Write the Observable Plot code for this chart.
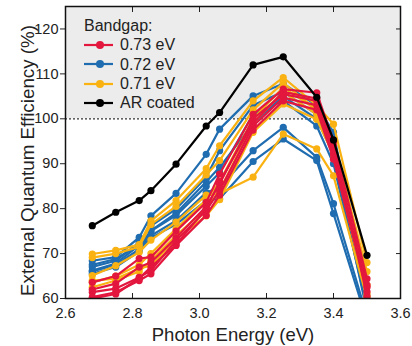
<!DOCTYPE html>
<html>
<head>
<meta charset="utf-8">
<script src="https://cdn.jsdelivr.net/npm/d3@7"></script>
<script src="https://cdn.jsdelivr.net/npm/@observablehq/plot@0.6"></script>
<style>
  html, body { margin: 0; padding: 0; background: #fff; }
  #wrap { position: relative; width: 412px; height: 346px; font-family: "Liberation Sans", Arial, sans-serif; }
  #legend { position: absolute; left: 84px; top: 16px; font-size: 16px; color: #222; line-height: 19px; }
  #legend .row { display: flex; align-items: center; height: 19.3px; }
  #legend svg { margin-right: 7px; }
</style>
</head>
<body>
<div id="wrap"></div>
<script>
const energies = [2.68, 2.75, 2.82, 2.855, 2.93, 3.02, 3.06, 3.16, 3.25, 3.35, 3.40, 3.50];

const arCoated = [76.2, 79.2, 81.8, 84.0, 89.9, 98.4, 101.4, 112.0, 113.8, 104.8, 95.3, 69.6];

const bandgap072 = [
  [68.4, 69.2, 73.6, 78.4, 83.4, 92.1, 97.7, 105.1, 107.8, 103.0, 97.0, 59.0],
  [67.0, 68.4, 72.5, 76.2, 79.9, 87.0, 92.9, 103.0, 106.0, 101.0, 95.0, 58.0],
  [66.2, 67.8, 71.8, 75.1, 79.0, 86.0, 89.2, 99.0, 105.0, 100.0, 92.0, 57.0],
  [67.5, 68.8, 72.0, 74.0, 77.3, 83.6, 84.7, 92.9, 98.1, 91.4, 81.1, 56.0],
  [66.0, 67.5, 71.0, 73.5, 76.5, 81.8, 82.2, 90.5, 95.5, 90.7, 78.9, 55.0],
  [65.5, 67.0, 70.5, 75.0, 78.5, 85.0, 88.0, 101.0, 104.0, 98.4, 90.0, 58.0]
];

const bandgap071 = [
  [69.9, 70.7, 72.0, 77.3, 81.8, 88.9, 94.0, 104.0, 109.2, 103.0, 98.8, 68.0],
  [69.1, 70.0, 71.5, 76.5, 80.5, 87.5, 90.7, 102.0, 108.0, 102.0, 95.0, 66.0],
  [65.1, 67.3, 70.3, 73.0, 77.0, 83.0, 83.3, 87.0, 96.6, 93.3, 87.3, 60.0],
  [64.0, 64.4, 66.7, 67.3, 73.3, 78.4, 82.0, 97.0, 103.3, 99.9, 92.0, 61.0],
  [62.5, 64.0, 66.0, 68.5, 74.0, 80.0, 84.0, 99.0, 106.0, 101.0, 93.0, 60.3],
  [63.6, 65.0, 67.5, 70.0, 75.5, 82.0, 86.0, 100.0, 107.0, 102.0, 94.0, 63.0]
];

const bandgap073 = [
  [63.6, 65.0, 68.9, 69.2, 75.0, 81.4, 87.7, 101.0, 106.6, 105.8, 95.0, 64.4],
  [62.0, 63.3, 67.0, 68.0, 73.5, 80.5, 85.5, 100.0, 105.5, 104.0, 93.0, 63.0],
  [61.4, 62.2, 64.7, 66.2, 72.9, 79.6, 84.0, 98.4, 104.7, 103.0, 92.0, 62.5],
  [60.3, 61.4, 64.0, 65.5, 71.8, 78.5, 83.0, 97.5, 104.0, 102.0, 91.0, 61.5],
  [60.0, 61.0, 64.5, 67.0, 72.0, 80.0, 86.0, 99.0, 106.0, 104.5, 94.0, 60.5]
];

const xTicks = [2.6, 2.8, 3.0, 3.2, 3.4, 3.6];
const yTicks = [60, 70, 80, 90, 100, 110, 120];
const xDomain = [2.6, 3.6];
const yDomain = [60, 125];
const shadeFrom = 100;

const colors = { red: "#e3173e", blue: "#1f6db0", yellow: "#f9b212", black: "#000000" };
const legendItems = [
  { label: "0.73 eV", color: colors.red },
  { label: "0.72 eV", color: colors.blue },
  { label: "0.71 eV", color: colors.yellow },
  { label: "AR coated", color: colors.black }
];

function toRows(group, color, prefix) {
  return group.flatMap((vals, i) => vals.map((v, j) => ({ x: energies[j], y: v, s: prefix + i, c: color })));
}
const groups = [
  toRows(bandgap072, colors.blue, "b"),
  toRows(bandgap071, colors.yellow, "y"),
  toRows(bandgap073, colors.red, "r"),
  toRows([arCoated], colors.black, "k")
];

const marks = [
  Plot.rect([{ x1: xDomain[0], x2: xDomain[1], y1: shadeFrom, y2: yDomain[1] }], { x1: "x1", x2: "x2", y1: "y1", y2: "y2", fill: "#ececec" }),
  Plot.ruleY([shadeFrom], { stroke: "#333", strokeWidth: 1.2, strokeDasharray: "2,2" })
];
for (const g of groups) {
  marks.push(Plot.line(g, { x: "x", y: "y", z: "s", stroke: "c", strokeWidth: 2.2, clip: true }));
  marks.push(Plot.dot(g, { x: "x", y: "y", fill: "c", r: 3.6, clip: true }));
}
marks.push(
  Plot.axisX({ ticks: xTicks, tickSize: -5, tickFormat: d3.format(".1f"), tickPadding: 14, fontSize: 14.5, label: null }),
  Plot.axisX({ anchor: "top", ticks: xTicks, tickSize: -5, tickFormat: () => "", label: null }),
  Plot.axisY({ ticks: yTicks, tickSize: 5, tickPadding: 2, fontSize: 14.5, label: null }),
  Plot.axisY({ anchor: "right", ticks: yTicks, tickSize: -5, tickFormat: () => "", label: null }),
  Plot.frame({ stroke: "#111", strokeWidth: 1.5 }),
  Plot.text(["Photon Energy (eV)"], { frameAnchor: "bottom", dy: 42, fontSize: 18.5, fill: "#222" }),
  Plot.text(["External Quantum Efficiency (%)"], { frameAnchor: "left", textAnchor: "middle", dx: -38, dy: 8, rotate: -90, fontSize: 18.8, fill: "#222" })
);

const chart = Plot.plot({
  width: 412,
  height: 346,
  marginLeft: 65,
  marginRight: 12,
  marginTop: 6,
  marginBottom: 48,
  x: { domain: xDomain },
  y: { domain: yDomain },
  style: { fontFamily: "Liberation Sans, Arial, sans-serif", color: "#222", background: "#fff", overflow: "visible" },
  marks
});

const wrap = document.getElementById("wrap");
wrap.appendChild(chart);

const legend = document.createElement("div");
legend.id = "legend";
legend.innerHTML = `<div class="row">Bandgap:</div>` + legendItems.map(d =>
  `<div class="row"><svg width="29" height="10"><line x1="0" x2="29" y1="5" y2="5" stroke="${d.color}" stroke-width="2.2"/><circle cx="16" cy="5" r="4" fill="${d.color}"/></svg>${d.label}</div>`
).join("");
wrap.appendChild(legend);
</script>
</body>
</html>
